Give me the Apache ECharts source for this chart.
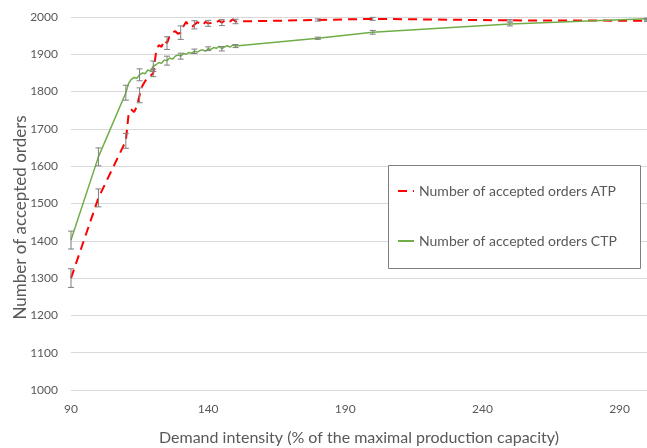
<!DOCTYPE html>
<html>
<head>
<meta charset="utf-8">
<script src="https://cdn.jsdelivr.net/npm/echarts@6/dist/echarts.min.js"></script>
<style>html,body{margin:0;padding:0;background:#fff}#c{width:647px;height:448px}</style>
</head>
<body>
<div id="c"></div>
<script>
const xValues = [90,100,110,111,112,113,114,115,116,117,118,119,120,121,122,123,124,125,126,127,128,129,130,131,132,133,134,135,136,137,138,139,140,141,142,143,144,145,146,147,148,149,150,180,200,250,300];
const atpValues = [1300,1515,1668,1740,1752,1745,1760,1790,1815,1828,1836,1842,1850,1905,1925,1920,1938,1930,1950,1958,1962,1955,1958,1975,1987,1975,1972,1979,1986,1983,1978,1987,1983,1984,1988,1986,1990,1985,1990,1993,1988,1994,1988,1992,1995,1991,1990];
const ctpValues = [1402,1625,1797,1822,1833,1838,1836,1845,1850,1848,1858,1855,1868,1872,1878,1876,1885,1883,1890,1887,1895,1898,1895,1902,1900,1905,1903,1908,1906,1910,1912,1908,1915,1913,1918,1916,1921,1915,1920,1923,1919,1925,1922,1943,1959,1981,1995];
const errX = [90,100,110,115,120,125,130,135,140,145,150,180,200,250,300];
const atpErr = [25,24,20,20,10,17,18,11,8,8,6,3,4,2,2];
const ctpErr = [24,24,20,16,14,12,8,6,5,6,4,3,5,5,2];
const yTicks = [1000,1100,1200,1300,1400,1500,1600,1700,1800,1900,2000];
const xTicks = [90,140,190,240,290];
const atpName = 'Number of accepted orders ATP';
const ctpName = 'Number of accepted orders CTP';

const atpLine = xValues.map((x,i)=>[x, atpValues[i]]);
const ctpLine = xValues.map((x,i)=>[x, ctpValues[i]]);
function errData(vals, errs){
  return errX.map((x,i)=>{ const v = vals[xValues.indexOf(x)]; return [x, v-errs[i], v+errs[i]]; });
}
function errRender(params, api){
  const x = api.value(0);
  const lo = api.coord([x, api.value(1)]);
  const hi = api.coord([x, api.value(2)]);
  const c = 3;
  const st = {stroke:'#7f7f7f', lineWidth:1};
  return {type:'group', children:[
    {type:'line', shape:{x1:lo[0],y1:lo[1],x2:hi[0],y2:hi[1]}, style:st},
    {type:'line', shape:{x1:lo[0]-c,y1:lo[1],x2:lo[0]+c,y2:lo[1]}, style:st},
    {type:'line', shape:{x1:hi[0]-c,y1:hi[1],x2:hi[0]+c,y2:hi[1]}, style:st}
  ]};
}
const font = 'Lato, "Open Sans", sans-serif';
const chart = echarts.init(document.getElementById('c'), null, {renderer:'canvas'});
chart.setOption({
  animation:false,
  backgroundColor:'#fff',
  textStyle:{fontFamily:font},
  grid:{left:71, right:0, top:17, bottom:58, containLabel:false, outerBoundsMode:'none'},
  xAxis:{
    type:'value', min:90, max:300,
    name:'Demand intensity (% of the maximal production capacity)',
    nameLocation:'middle', nameGap:40, nameMoveOverlap:false,
    nameTextStyle:{fontSize:16, color:'#595959', fontFamily:font},
    axisLine:{show:false}, axisTick:{show:false},
    splitLine:{show:false},
    axisLabel:{customValues:xTicks, color:'#595959', fontSize:12, margin:13, fontFamily:font,
      formatter:v=>String(v)}
  },
  yAxis:{
    type:'value', min:1000, max:2000, interval:100,
    name:'Number of accepted orders',
    nameLocation:'middle', nameGap:42, nameMoveOverlap:false,
    nameTextStyle:{fontSize:17, color:'#595959', fontFamily:font, padding:[0,28,0,0]},
    axisLine:{show:false}, axisTick:{show:false},
    splitLine:{lineStyle:{color:'#d9d9d9', width:1}},
    axisLabel:{customValues:yTicks, color:'#595959', fontSize:12, margin:13, fontFamily:font,
      formatter:v=>String(v)}
  },
  legend:{
    orient:'vertical', left:397, top:184, padding:0, itemGap:36,
    itemWidth:16, itemHeight:14,
    itemStyle:{opacity:0},
    textStyle:{fontSize:14, color:'#595959', fontFamily:font},
    data:[atpName, ctpName]
  },
  graphic:[{type:'rect', left:388, top:165, z:3,
    shape:{width:252, height:103},
    style:{fill:'#fff', stroke:'#7f7f7f', lineWidth:1}}],
  series:[
    {name:atpName, type:'line', data:atpLine, showSymbol:false, symbol:'none',
     lineStyle:{color:'#ff0000', width:2, type:[9,6]}, itemStyle:{color:'#ff0000'}},
    {name:ctpName, type:'line', data:ctpLine, showSymbol:false, symbol:'none',
     lineStyle:{color:'#70ad47', width:1.5}, itemStyle:{color:'#70ad47'}},
    {type:'custom', renderItem:errRender, data:errData(atpValues, atpErr), z:5, silent:true},
    {type:'custom', renderItem:errRender, data:errData(ctpValues, ctpErr), z:5, silent:true}
  ]
});
</script>
</body>
</html>
